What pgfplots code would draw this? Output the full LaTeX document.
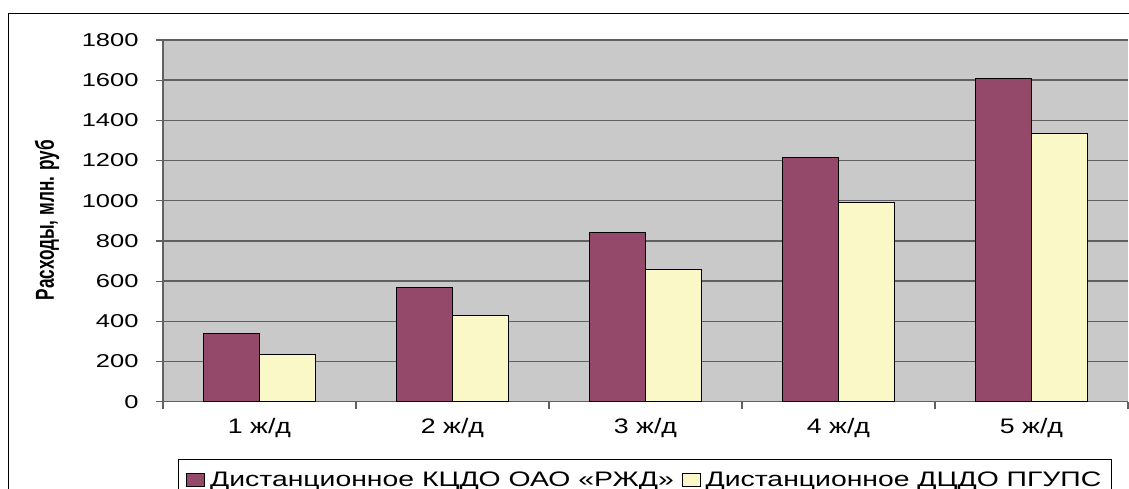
\documentclass[border=0pt]{standalone}
\usepackage{pgfplots}
\pgfplotsset{compat=1.18}
\usepackage{fontspec}
\setmainfont{Liberation Sans}
\newfontfamily\tickfont[FakeStretch=1.37]{Liberation Sans}
\newfontfamily\labfont[FakeStretch=1.27]{Liberation Sans}
\newfontfamily\legfont[FakeStretch=1.35]{Liberation Sans}
\newfontfamily\yfont[FakeStretch=0.66]{Liberation Sans Bold}
\definecolor{bg}{RGB}{201,201,201}
\definecolor{maroon}{RGB}{148,72,106}
\definecolor{cream}{RGB}{251,248,200}
\definecolor{gridc}{RGB}{96,96,96}
\begin{document}
\begin{tikzpicture}[x=1pt,y=1pt]
\path[use as bounding box] (0,0) rectangle (1129,489);
\draw[line width=1.3pt] (8.3,-10) -- (8.3,475.7) -- (1140,475.7);
\begin{axis}[
  at={(163pt,87.3pt)}, anchor=south west,
  scale only axis, width=965pt, height=361.7pt,
  xmin=0.5, xmax=5.5, ymin=0, ymax=1800,
  ytick={0,200,...,1800},
  xtick={0.5,1.5,2.5,3.5,4.5,5.5},
  xticklabels={1 ж/д,2 ж/д,3 ж/д,4 ж/д,5 ж/д,{}},
  xticklabel style={xshift=96.5pt, yshift=-6pt, font=\labfont\fontsize{21}{24}\selectfont},
  yticklabel style={xshift=-14pt, font=\tickfont\fontsize{18.6}{21}\selectfont},
  /pgf/number format/assume math mode=true,
  /pgf/number format/1000 sep={},
  axis background/.style={fill=bg},
  ybar=0pt, bar width=56pt,
  ymajorgrids, grid style={gridc, line width=1.4pt},
  axis x line*=bottom, axis y line*=left,
  axis line style={gridc, line width=1.2pt, -},
  tick align=outside, major tick length=7pt,
  tick style={gridc, line width=1.2pt},
  ylabel={Расходы, млн. руб},
  ylabel style={at={(-0.1202,0.5023)}, anchor=center, font=\yfont\fontsize{26}{28}\selectfont},
  legend columns=2,
  legend style={at={(0.01554,-0.1592)}, anchor=north west, draw=black, line width=0.8pt, fill=white,
    inner xsep=8pt, inner ysep=10pt,
    font=\legfont\fontsize{21}{24}\selectfont,
    /tikz/every odd column/.append style={column sep=3pt},
    /tikz/every even column/.append style={column sep=6pt}},
  legend image code/.code={\draw[#1,line width=0.8pt] (0pt,-6.5pt) rectangle (18pt,6.5pt);},
]
\addplot[fill=maroon, draw=black, line width=1pt] coordinates {(1,340) (2,567) (3,841) (4,1214) (5,1606)};
\addplot[fill=cream, draw=black, line width=1pt] coordinates {(1,237) (2,428) (3,660) (4,990) (5,1336)};
\legend{Дистанционное КЦДО ОАО «РЖД», Дистанционное ДЦДО ПГУПС}
\end{axis}
\end{tikzpicture}
\end{document}
